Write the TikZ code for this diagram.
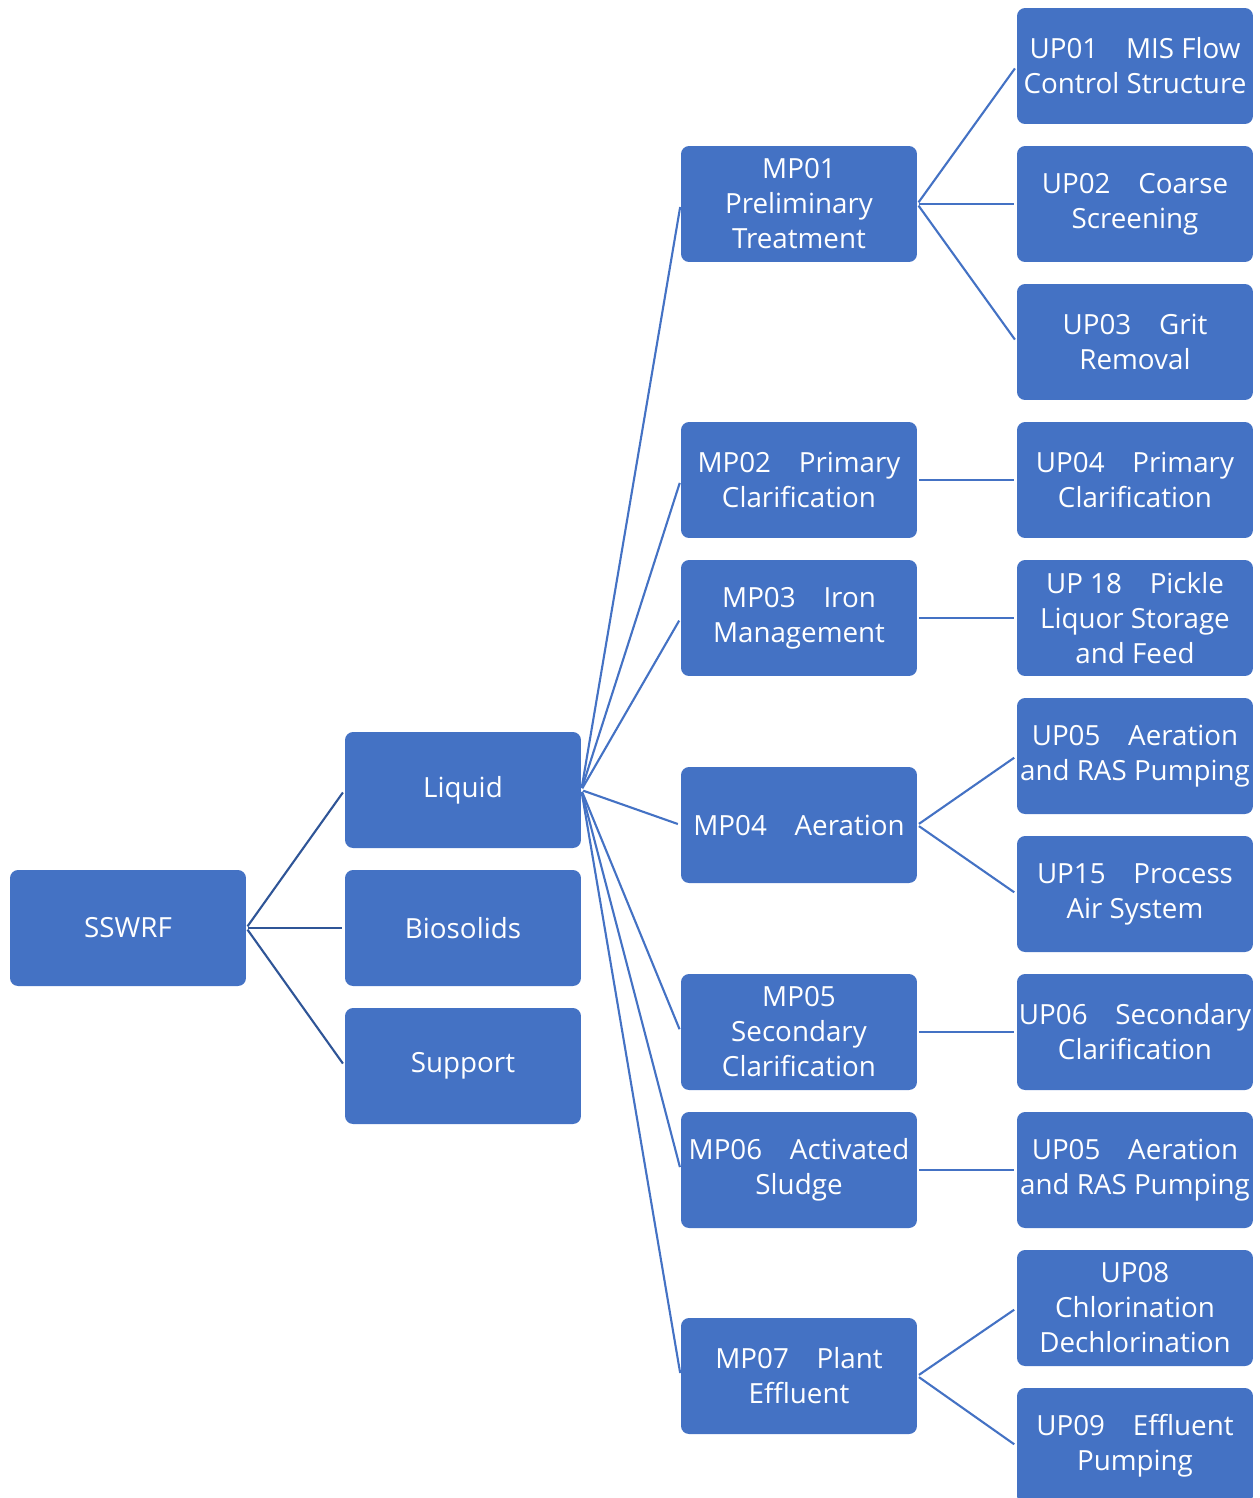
\documentclass[tikz,border=0pt]{standalone}
\usepackage{fontspec}
\setmainfont{Open Sans}
\usepackage{xcolor}
\definecolor{boxblue}{RGB}{68, 114, 196}
\definecolor{darkline}{RGB}{47, 85, 151}

\tikzset{
    unit/.style={rectangle,rounded corners=0.16cm,fill=boxblue,text=white,
        minimum width=4.72cm,minimum height=2.32cm,inner sep=0pt,
        align=center,font=\fontsize{15.8}{19.9}\selectfont},
    link/.style={line width=1.2pt,shorten <=0.04cm,shorten >=0.06cm}
}

\begin{document}
\begin{tikzpicture}[x=0.02cm,y=-0.02cm]
        \useasboundingbox (0,0) rectangle (1260,1498);
        % root and first level
        \node[unit] (sswrf) at (128,928) {SSWRF};
        \node[unit] (liquid) at (463,790) {Liquid};
        \node[unit] (biosolids) at (463,928) {Biosolids};
        \node[unit] (support) at (463,1066) {Support};
        % main processes
        \node[unit] (mp01) at (799,204) {MP01\\Preliminary\\Treatment};
        \node[unit] (mp02) at (799,480) {MP02\quad Primary\\Clarification};
        \node[unit] (mp03) at (799,618) {MP03\quad Iron\\Management};
        \node[unit] (mp04) at (799,825) {MP04\quad Aeration};
        \node[unit] (mp05) at (799,1032) {MP05\\Secondary\\Clarification};
        \node[unit] (mp06) at (799,1170) {MP06\quad Activated\\Sludge};
        \node[unit] (mp07) at (799,1376) {MP07\quad Plant\\Effluent};
        % unit processes
        \node[unit] (up01) at (1135,66) {UP01\quad MIS Flow\\Control Structure};
        \node[unit] (up02) at (1135,204) {UP02\quad Coarse\\Screening};
        \node[unit] (up03) at (1135,342) {UP03\quad Grit\\Removal};
        \node[unit] (up04) at (1135,480) {UP04\quad Primary\\Clarification};
        \node[unit] (up18) at (1135,618) {UP 18\quad Pickle\\Liquor Storage\\and Feed};
        \node[unit] (up05a) at (1135,756) {UP05\quad Aeration\\and RAS Pumping};
        \node[unit] (up15) at (1135,894) {UP15\quad Process\\Air System};
        \node[unit] (up06) at (1135,1032) {UP06\quad Secondary\\Clarification};
        \node[unit] (up05b) at (1135,1170) {UP05\quad Aeration\\and RAS Pumping};
        \node[unit] (up08) at (1135,1308) {UP08\\Chlorination\\Dechlorination};
        \node[unit] (up09) at (1135,1446) {UP09\quad Effluent\\Pumping};
        % connectors
        \foreach \child in {liquid,biosolids,support} {
            \draw[link,darkline] (sswrf.east) -- (\child.west);
        }
        \foreach \child in {mp01,mp02,mp03,mp04,mp05,mp06,mp07} {
            \draw[link,boxblue] (liquid.east) -- (\child.west);
        }
        \foreach \parent/\child in {mp01/up01,mp01/up02,mp01/up03,mp02/up04,mp03/up18,
            mp04/up05a,mp04/up15,mp05/up06,mp06/up05b,mp07/up08,mp07/up09} {
            \draw[link,boxblue] (\parent.east) -- (\child.west);
        }
    \end{tikzpicture}
\end{document}
